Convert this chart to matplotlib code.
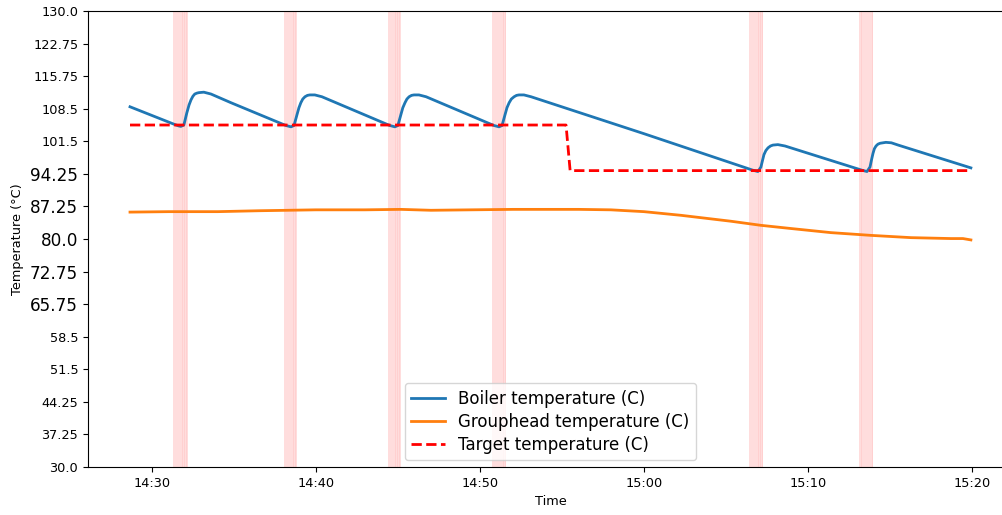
import numpy as np
import pandas as pd
import matplotlib
matplotlib.use('Agg')
import matplotlib.pyplot as plt
import matplotlib.dates as mdates

DAY = "2024-01-01 "

# boiler temperature
boiler_time = ["14:28:40", "14:30:00", "14:31:20", "14:31:38", "14:31:46", "14:31:57",
               "14:32:08", "14:32:16", "14:32:23", "14:32:30", "14:32:37", "14:32:45",
               "14:32:52", "14:33:10", "14:33:36", "14:34:49", "14:38:10", "14:38:29",
               "14:38:40", "14:38:51", "14:38:58", "14:39:05", "14:39:12", "14:39:20",
               "14:39:29", "14:39:38", "14:39:56", "14:40:22", "14:44:30", "14:44:49",
               "14:45:00", "14:45:11", "14:45:18", "14:45:26", "14:45:33", "14:45:41",
               "14:45:50", "14:45:59", "14:46:17", "14:46:43", "14:50:51", "14:51:10",
               "14:51:21", "14:51:32", "14:51:39", "14:51:47", "14:51:55", "14:52:05",
               "14:52:14", "14:52:23", "14:52:41", "14:53:07", "15:00:00", "15:06:38",
               "15:06:57", "15:07:08", "15:07:14", "15:07:19", "15:07:26", "15:07:34",
               "15:07:43", "15:07:52", "15:08:10", "15:08:36", "15:13:17", "15:13:36",
               "15:13:47", "15:13:53", "15:13:58", "15:14:03", "15:14:09", "15:14:16",
               "15:14:24", "15:14:45", "15:15:05", "15:15:30", "15:19:56"]
boiler_temp = [109.0, 107.1, 105.2, 104.8, 104.7, 105.0,
               107.7, 109.4, 110.5, 111.3, 111.8, 112.0,
               112.1, 112.2, 111.8, 109.9, 104.9, 104.6,
               104.9, 107.3, 108.8, 109.9, 110.7, 111.2,
               111.5, 111.6, 111.6, 111.2, 104.9, 104.6,
               104.9, 107.3, 108.8, 109.9, 110.7, 111.2,
               111.5, 111.6, 111.6, 111.2, 104.9, 104.6,
               104.9, 107.3, 108.8, 109.9, 110.7, 111.2,
               111.5, 111.6, 111.6, 111.2, 103.1, 95.1,
               94.8, 95.8, 97.3, 98.5, 99.4, 100.0,
               100.4, 100.6, 100.7, 100.4, 95.1, 94.8,
               95.8, 97.5, 98.8, 99.8, 100.4, 100.8,
               101.0, 101.2, 101.1, 100.6, 95.6]

group_time = ["14:28:40", "14:31:02", "14:34:01", "14:36:31", "14:40:00", "14:42:59",
              "14:45:11", "14:47:01", "14:49:27", "14:52:01", "14:56:02", "14:57:59",
              "15:00:00", "15:02:15", "15:05:18", "15:07:08", "15:08:58", "15:11:24",
              "15:13:50", "15:16:17", "15:18:43", "15:19:27", "15:19:56"]
group_temp = [85.9, 86.0, 86.0, 86.2, 86.4, 86.4,
              86.5, 86.3, 86.4, 86.5, 86.5, 86.4,
              86.0, 85.2, 83.9, 83.0, 82.3, 81.4,
              80.8, 80.3, 80.1, 80.1, 79.8]

target_time = ["14:28:40", "14:55:15", "14:55:30", "15:19:56"]
target_temp = [105.0, 105.0, 95.0, 95.0]

# heater on periods
heat_start = ["14:31:17", "14:38:03", "14:44:23", "14:50:44", "15:06:24", "15:13:07"]
heat_end = ["14:32:12", "14:38:51", "14:45:11", "14:51:36", "15:07:16", "15:13:58"]

ytick_labels = ["30.0", "37.25", "44.25", "51.5", "58.5", "65.75", "72.75", "80.0",
                "87.25", "94.25", "101.5", "108.5", "115.75", "122.75", "130.0"]
big_labels = ["65.75", "72.75", "80.0", "87.25", "94.25"]


def to_dt(lst):
    return pd.to_datetime([DAY + t for t in lst])


fig = plt.figure(figsize=(10.03, 5.15), dpi=100)
ax = fig.add_axes([0.0877, 0.0932, 0.9222, 0.8854])

for s, e in zip(to_dt(heat_start), to_dt(heat_end)):
    # overlapping slices -> striped look
    ax.axvspan(s, e, color='red', alpha=0.08, lw=0)
    t = s
    while t < e:
        ax.axvspan(t, min(t + pd.Timedelta(seconds=9), e), color='red', alpha=0.06, lw=0)
        t = t + pd.Timedelta(seconds=7)

ax.plot(to_dt(boiler_time), boiler_temp, color='#1f77b4', lw=2, label='Boiler temperature (C)')
ax.plot(to_dt(group_time), group_temp, color='#ff7f0e', lw=2, label='Grouphead temperature (C)')
ax.plot(to_dt(target_time), target_temp, color='red', ls='--', lw=2, label='Target temperature (C)')

ax.set_ylim(30, 130)
ax.set_yticks(np.linspace(30, 130, len(ytick_labels)))
ax.set_yticklabels(ytick_labels)
for lab in ax.get_yticklabels():
    lab.set_fontsize(12.2 if lab.get_text() in big_labels else 9.3)

ax.xaxis.set_major_locator(mdates.MinuteLocator(byminute=[0, 10, 20, 30, 40, 50]))
ax.xaxis.set_major_formatter(mdates.DateFormatter('%H:%M'))
ax.tick_params(axis='x', labelsize=9.3)

ax.set_xlabel('Time', fontsize=9.3)
ax.set_ylabel('Temperature (°C)', fontsize=9.3)
ax.legend(loc='lower center', fontsize=12, labelspacing=0.3, borderaxespad=0.4)

fig.savefig('out.png', dpi=100)
